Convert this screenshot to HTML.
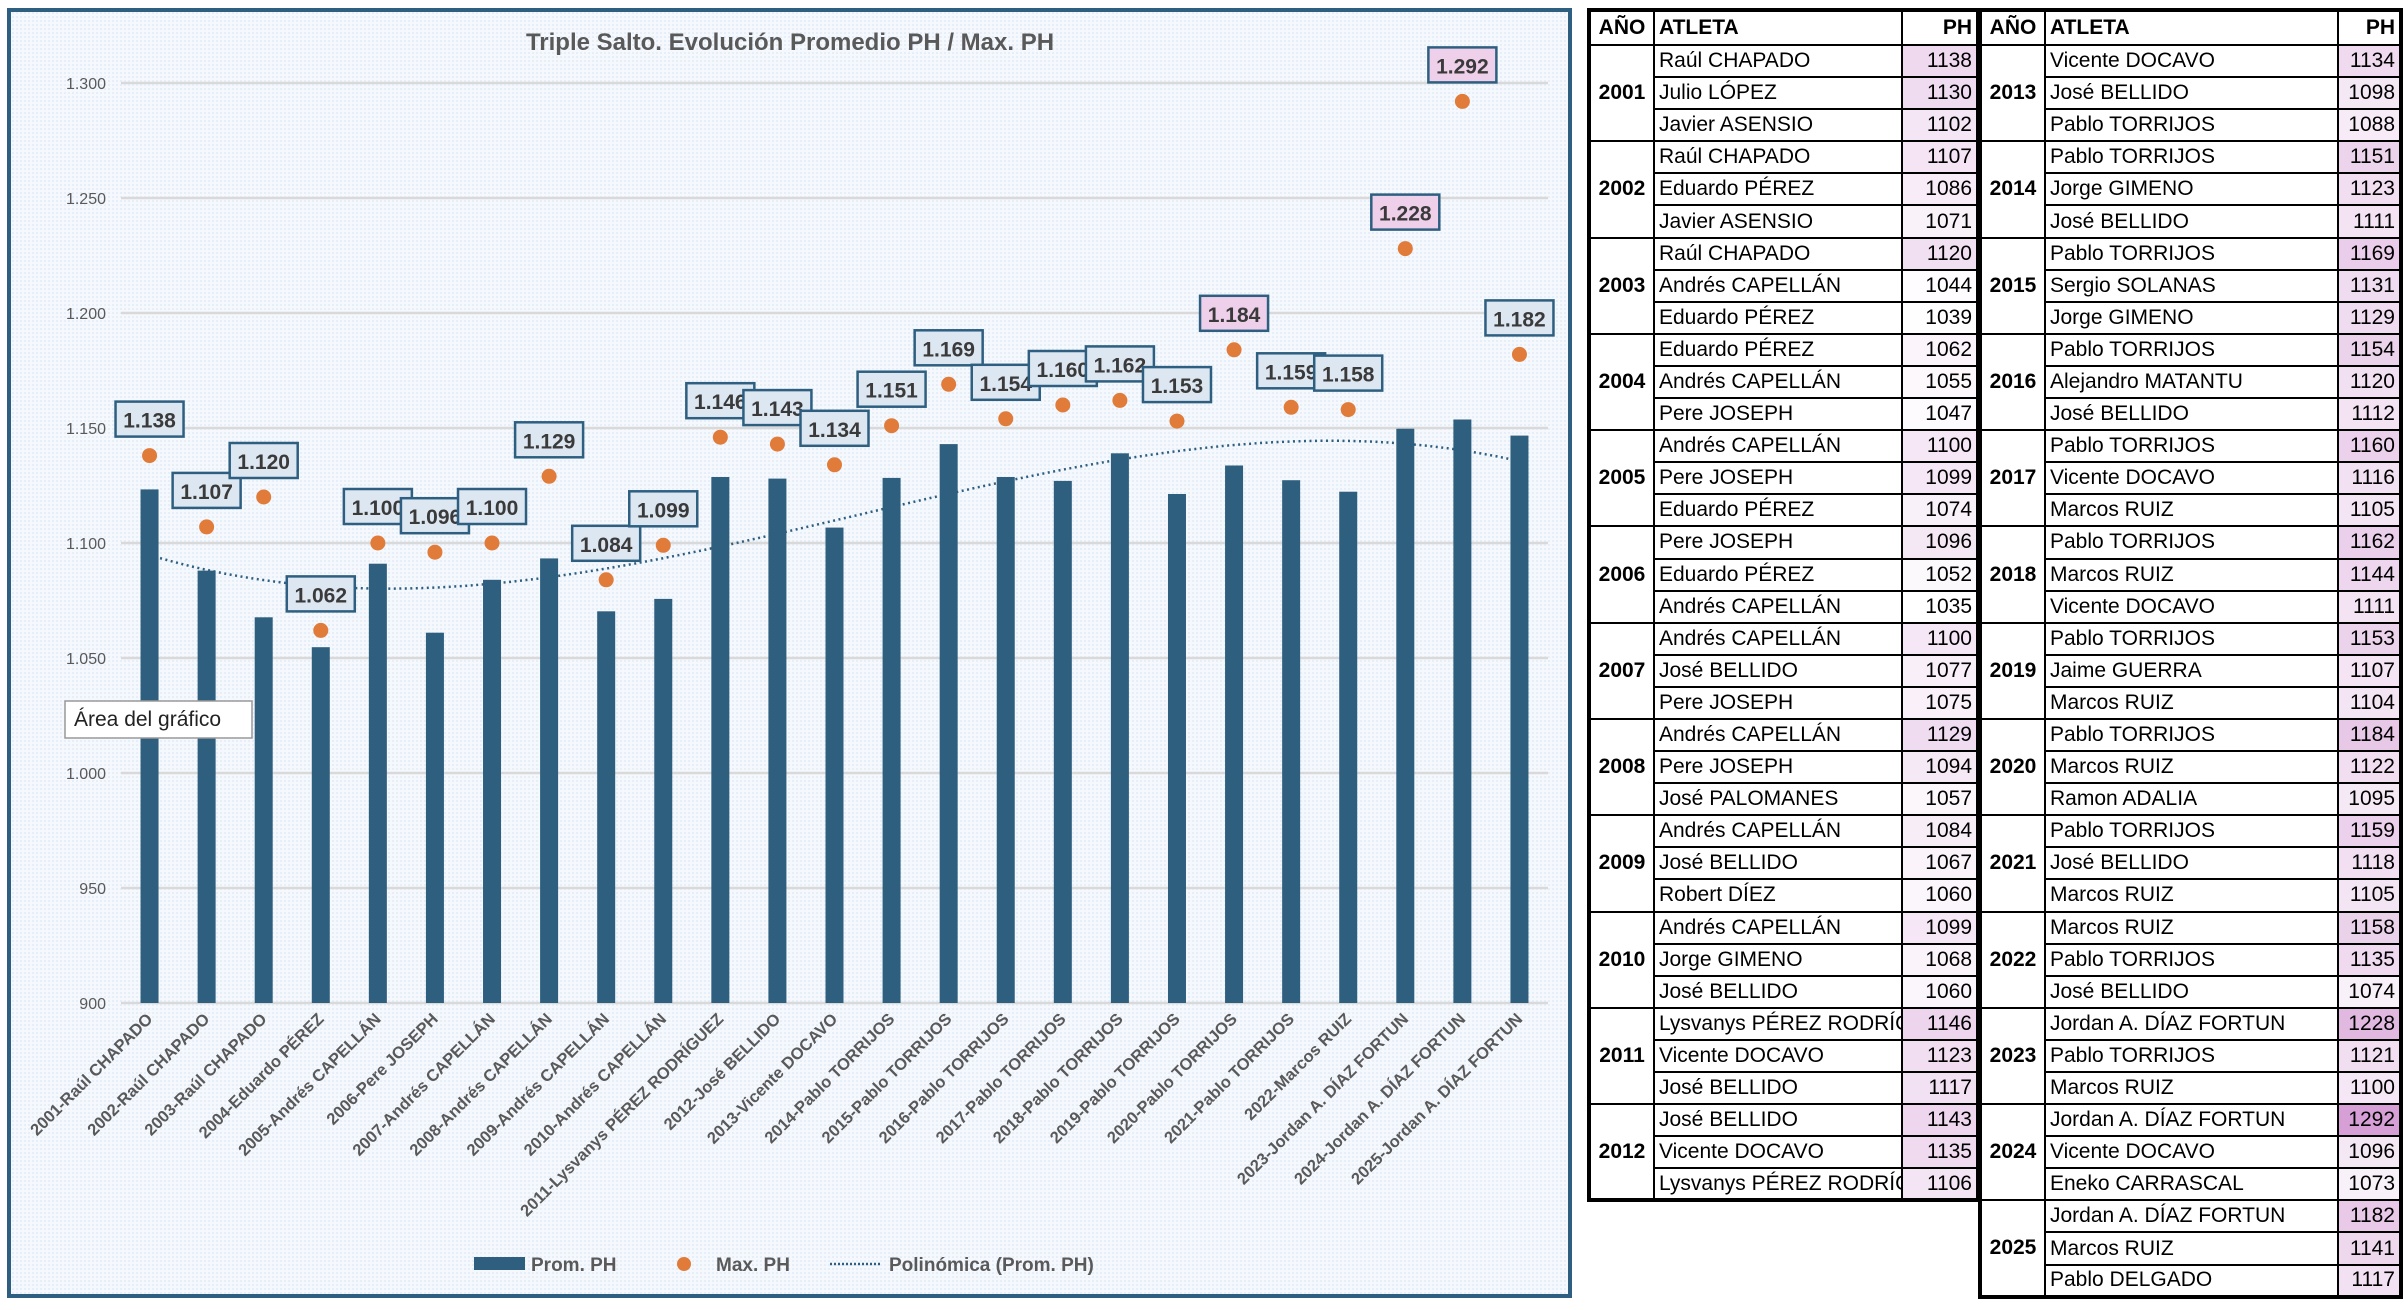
<!DOCTYPE html>
<html><head><meta charset="utf-8">
<style>
html,body{margin:0;padding:0;background:#fff;}
body{width:2404px;height:1310px;position:relative;overflow:hidden;font-family:"Liberation Sans",sans-serif;}
#chart{position:absolute;left:0;top:0;}
table{position:absolute;border-collapse:collapse;font-family:"Liberation Sans Narrow","Liberation Sans",sans-serif;font-size:21px;color:#000;table-layout:fixed;border:4px solid #000;}
tr{height:32.1px;}
tr.h{height:35px;}
td,th{border:2px solid #000;padding:0 4px;white-space:nowrap;overflow:hidden;line-height:22px;}
th{font-weight:bold;text-align:left;background:#fff;}
td.y{font-weight:bold;text-align:center;}
td.p,th.p{text-align:right;}
</style></head><body>
<svg id="chart" width="1578" height="1310" xmlns="http://www.w3.org/2000/svg">
<defs>
<pattern id="pat" width="4" height="4" patternUnits="userSpaceOnUse">
<rect width="4" height="4" fill="#f5f8fc"/><rect width="2" height="2" fill="#e6eef8"/>
</pattern>
</defs>
<rect x="9" y="10" width="1561" height="1286" fill="url(#pat)" stroke="#2e5f80" stroke-width="4"/>
<text x="790" y="50" text-anchor="middle" font-size="24" font-weight="bold" fill="#595959">Triple Salto. Evolución Promedio PH / Max. PH</text>
<g id="grid"></g><g id="bars"></g><g id="trend"></g><g id="markers"></g><g id="labels"></g><g id="xlabels"></g>
<g>
<rect x="474" y="1257" width="51" height="13" fill="#2e5f7f"/>
<text x="531" y="1271" font-size="19" font-weight="bold" fill="#595959">Prom. PH</text>
<circle cx="684" cy="1264" r="7" fill="#e07b3a"/>
<text x="716" y="1271" font-size="19" font-weight="bold" fill="#595959">Max. PH</text>
<line x1="830" y1="1264" x2="882" y2="1264" stroke="#2e5f80" stroke-width="2.5" stroke-dasharray="2,2"/>
<text x="889" y="1271" font-size="19" font-weight="bold" fill="#595959">Polinómica (Prom. PH)</text>
</g>
<g>
<rect x="65" y="701" width="187" height="37" fill="#fff" stroke="#999" stroke-width="1.5"/>
<text x="74" y="726" font-size="21" fill="#222">Área del gráfico</text>
</g>
</svg>

<table id="t1" style="left:1587px;top:8px;width:393px;"></table>
<table id="t2" style="left:1978px;top:8px;width:425px;"></table>

<script>
const years=["2001","2002","2003","2004","2005","2006","2007","2008","2009","2010","2011","2012","2013","2014","2015","2016","2017","2018","2019","2020","2021","2022","2023","2024","2025"];
const bestAthletes=["Raúl CHAPADO","Raúl CHAPADO","Raúl CHAPADO","Eduardo PÉREZ","Andrés CAPELLÁN","Pere JOSEPH","Andrés CAPELLÁN","Andrés CAPELLÁN","Andrés CAPELLÁN","Andrés CAPELLÁN","Lysvanys PÉREZ RODRÍGUEZ","José BELLIDO","Vicente DOCAVO","Pablo TORRIJOS","Pablo TORRIJOS","Pablo TORRIJOS","Pablo TORRIJOS","Pablo TORRIJOS","Pablo TORRIJOS","Pablo TORRIJOS","Pablo TORRIJOS","Marcos RUIZ","Jordan A. DÍAZ FORTUN","Jordan A. DÍAZ FORTUN","Jordan A. DÍAZ FORTUN"];
const athletes=[
["Raúl CHAPADO","Julio LÓPEZ","Javier ASENSIO"],["Raúl CHAPADO","Eduardo PÉREZ","Javier ASENSIO"],["Raúl CHAPADO","Andrés CAPELLÁN","Eduardo PÉREZ"],["Eduardo PÉREZ","Andrés CAPELLÁN","Pere JOSEPH"],["Andrés CAPELLÁN","Pere JOSEPH","Eduardo PÉREZ"],["Pere JOSEPH","Eduardo PÉREZ","Andrés CAPELLÁN"],["Andrés CAPELLÁN","José BELLIDO","Pere JOSEPH"],["Andrés CAPELLÁN","Pere JOSEPH","José PALOMANES"],["Andrés CAPELLÁN","José BELLIDO","Robert DÍEZ"],["Andrés CAPELLÁN","Jorge GIMENO","José BELLIDO"],["Lysvanys PÉREZ RODRÍGUEZ","Vicente DOCAVO","José BELLIDO"],["José BELLIDO","Vicente DOCAVO","Lysvanys PÉREZ RODRÍGUEZ"],
["Vicente DOCAVO","José BELLIDO","Pablo TORRIJOS"],["Pablo TORRIJOS","Jorge GIMENO","José BELLIDO"],["Pablo TORRIJOS","Sergio SOLANAS","Jorge GIMENO"],["Pablo TORRIJOS","Alejandro MATANTU","José BELLIDO"],["Pablo TORRIJOS","Vicente DOCAVO","Marcos RUIZ"],["Pablo TORRIJOS","Marcos RUIZ","Vicente DOCAVO"],["Pablo TORRIJOS","Jaime GUERRA","Marcos RUIZ"],["Pablo TORRIJOS","Marcos RUIZ","Ramon ADALIA"],["Pablo TORRIJOS","José BELLIDO","Marcos RUIZ"],["Marcos RUIZ","Pablo TORRIJOS","José BELLIDO"],["Jordan A. DÍAZ FORTUN","Pablo TORRIJOS","Marcos RUIZ"],["Jordan A. DÍAZ FORTUN","Vicente DOCAVO","Eneko CARRASCAL"],["Jordan A. DÍAZ FORTUN","Marcos RUIZ","Pablo DELGADO"]];
const marks=[[1138,1130,1102],[1107,1086,1071],[1120,1044,1039],[1062,1055,1047],[1100,1099,1074],[1096,1052,1035],[1100,1077,1075],[1129,1094,1057],[1084,1067,1060],[1099,1068,1060],[1146,1123,1117],[1143,1135,1106],[1134,1098,1088],[1151,1123,1111],[1169,1131,1129],[1154,1120,1112],[1160,1116,1105],[1162,1144,1111],[1153,1107,1104],[1184,1122,1095],[1159,1118,1105],[1158,1135,1074],[1228,1121,1100],[1292,1096,1073],[1182,1141,1117]];
const maxPH=[1138,1107,1120,1062,1100,1096,1100,1129,1084,1099,1146,1143,1134,1151,1169,1154,1160,1162,1153,1184,1159,1158,1228,1292,1182];
const promPH=[1123.3,1088,1067.7,1054.7,1091,1061,1084,1093.3,1070.3,1075.7,1128.7,1128,1106.7,1128.3,1143,1128.7,1127,1139,1121.3,1133.7,1127.3,1122.3,1149.7,1153.7,1146.7];
const yTicks=[900,950,1000,1050,1100,1150,1200,1250,1300];
const yTickLabels=["900","950","1.000","1.050","1.100","1.150","1.200","1.250","1.300"];
const highlighted=[1184,1228,1292];

const NS="http://www.w3.org/2000/svg";
const PL=121,PR=1548,Y0=1003,YS=2.3;
const slot=(PR-PL)/years.length;
const xc=i=>PL+slot*(i+0.5);
const yv=v=>Y0-(v-900)*YS;
function mk(tag,attrs,parent){const e=document.createElementNS(NS,tag);for(const k in attrs)e.setAttribute(k,attrs[k]);parent.appendChild(e);return e;}

const grid=document.getElementById('grid');
yTicks.forEach((t,i)=>{
  const l=mk('line',{x1:PL,x2:PR,y1:yv(t),y2:yv(t),stroke:'#d9d9d9','stroke-width':2.5},grid);
  
  
  const tx=mk('text',{x:106,y:yv(t)+6,'text-anchor':'end','font-size':16,fill:'#595959'},grid);
  tx.textContent=yTickLabels[i];
  
  
});
const bars=document.getElementById('bars');
promPH.forEach((v,i)=>{
  const r=mk('rect',{x:xc(i)-9,y:yv(v),width:18,height:Y0-yv(v),fill:'#2e5f7f'},bars);
  
  
});
(function(){
  const n=promPH.length,deg=3,A=[],b=[];
  for(let r=0;r<=deg;r++){A.push([]);let s=0;for(let k=0;k<n;k++)s+=promPH[k]*Math.pow((k+1)/n,r);b.push(s);
    for(let c=0;c<=deg;c++){let q=0;for(let k=0;k<n;k++)q+=Math.pow((k+1)/n,r+c);A[r].push(q);}}
  for(let i=0;i<=deg;i++){for(let j=i+1;j<=deg;j++){const f=A[j][i]/A[i][i];for(let c=i;c<=deg;c++)A[j][c]-=f*A[i][c];b[j]-=f*b[i];}}
  const co=new Array(deg+1).fill(0);
  for(let i=deg;i>=0;i--){let s=b[i];for(let c=i+1;c<=deg;c++)s-=A[i][c]*co[c];co[i]=s/A[i][i];}
  let d='';
  for(let t=0;t<=200;t++){const x=1+(n-1)*t/200,u=x/n;let v=0;for(let c=0;c<=deg;c++)v+=co[c]*Math.pow(u,c);
    const px=xc(x-1),py=yv(v);d+=(t?'L':'M')+px.toFixed(1)+','+py.toFixed(1);}
  const p=mk('path',{d:d,fill:'none',stroke:'#2e5f80','stroke-width':2.5,'stroke-dasharray':'2,3.5'},document.getElementById('trend'));
  
  
})();
const mg=document.getElementById('markers'),lg=document.getElementById('labels');
maxPH.forEach((v,i)=>{
  const c=mk('circle',{cx:xc(i),cy:yv(v),r:7.5,fill:'#e07b3a'},mg);
  
  
  const hl=highlighted.includes(v);
  const g=mk('g',{},lg);
  
  
  const by=yv(v)-19-35;
  mk('rect',{x:xc(i)-34,y:by,width:68,height:35,fill:hl?'#efd0ea':'#dde7f2',stroke:'#2e5f80','stroke-width':2.5},g);
  const t=mk('text',{x:xc(i),y:by+26,'text-anchor':'middle','font-size':21,'font-weight':'bold',fill:'#3a3a3a'},g);
  t.textContent=(v/1000).toFixed(3);
});
const xl=document.getElementById('xlabels');
years.forEach((y,i)=>{
  const x=xc(i)+4,yy=1020;
  const t=mk('text',{x:x,y:yy,'text-anchor':'end','font-size':16.5,'font-weight':'bold',fill:'#595959',transform:'rotate(-45 '+x+' '+yy+')'},xl);
  t.textContent=y+'-'+bestAthletes[i];
  
  
});

function color(v){const t=Math.max(0,Math.min(1,(v-1035)/(1292-1035)));
  const r=Math.round(255+(214-255)*t),g=Math.round(255+(160-255)*t),b=Math.round(255+(214-255)*t);return 'rgb('+r+','+g+','+b+')';}
function build(id,from,to){
  const tb=document.getElementById(id);
  let h='<colgroup><col style="width:65px"><col><col style="width:'+(id=='t1'?76:63)+'px"></colgroup>';
  h+='<tr class="h"><th style="text-align:center">AÑO</th><th>ATLETA</th><th class="p">PH</th></tr>';
  for(let i=from;i<=to;i++){for(let k=0;k<3;k++){
    h+='<tr>'+(k==0?'<td class="y" rowspan="3">'+years[i]+'</td>':'')+
    '<td>'+athletes[i][k]+'</td><td class="p" style="background:'+color(marks[i][k])+'">'+marks[i][k]+'</td></tr>';}}
  tb.innerHTML=h;
}
build('t1',0,11);build('t2',12,24);
</script>
</body></html>
